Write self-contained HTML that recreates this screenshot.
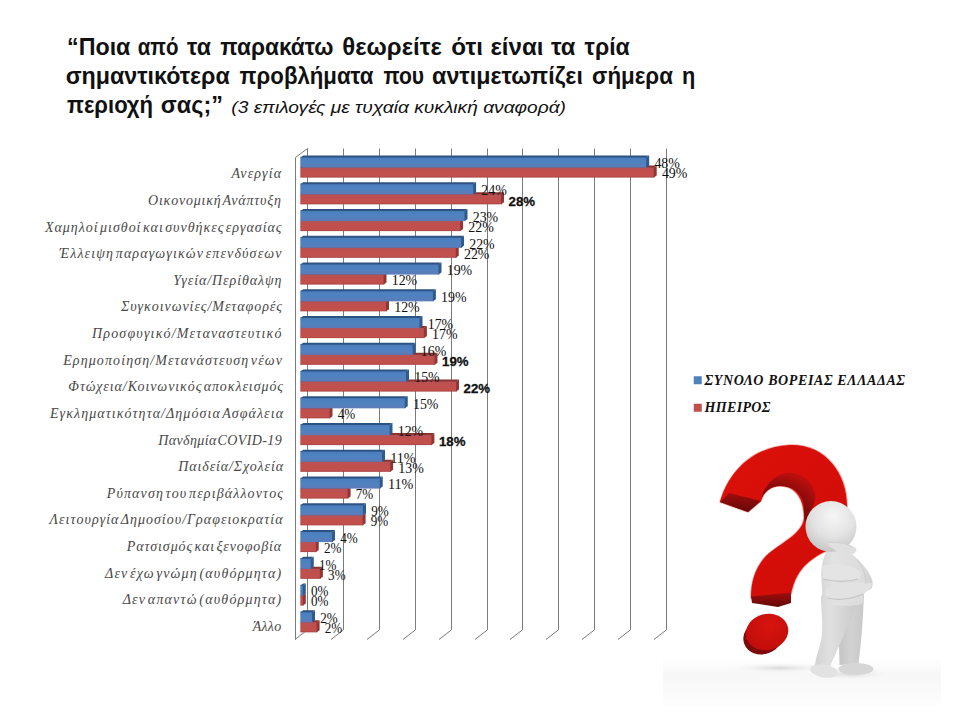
<!DOCTYPE html>
<html><head><meta charset="utf-8">
<style>
html,body{margin:0;padding:0;background:#fff;width:960px;height:720px;overflow:hidden}
svg{position:absolute;left:0;top:0}
.g{stroke:#7a7a7a;stroke-width:1}
.t{font-family:"Liberation Sans",sans-serif;font-weight:bold;font-size:23px;fill:#111}
.st{font-family:"Liberation Sans",sans-serif;font-style:italic;font-size:16.5px;fill:#111}
.c{font-family:"Liberation Serif",serif;font-style:italic;font-size:14px;fill:#484848;word-spacing:-3px}
.v{font-family:"Liberation Serif",serif;font-size:14.5px;fill:#111}
.vb{font-family:"Liberation Sans",sans-serif;font-weight:bold;font-size:13.5px;fill:#111;stroke:#111;stroke-width:0.3px}
.lg{font-family:"Liberation Serif",serif;font-style:italic;font-weight:bold;font-size:14px;fill:#111}
</style></head><body>
<svg width="960" height="720" viewBox="0 0 960 720">
<defs>
<linearGradient id="gb" x1="0" y1="0" x2="0" y2="1">
<stop offset="0" stop-color="#4a7dbb"/><stop offset="0.5" stop-color="#4f82c0"/><stop offset="1" stop-color="#5b7cb8"/>
</linearGradient>
<linearGradient id="gr" x1="0" y1="0" x2="0" y2="1">
<stop offset="0" stop-color="#b1555c"/><stop offset="0.3" stop-color="#bf4f4d"/><stop offset="0.85" stop-color="#c2504d"/><stop offset="1" stop-color="#a84442"/>
</linearGradient>
</defs>
<text x="67.10" y="54.75" class="t" textLength="63.30" lengthAdjust="spacingAndGlyphs">“Ποια</text>
<text x="137.75" y="54.75" class="t" textLength="40.75" lengthAdjust="spacingAndGlyphs">από</text>
<text x="187.10" y="54.75" class="t" textLength="23.90" lengthAdjust="spacingAndGlyphs">τα</text>
<text x="220.25" y="54.75" class="t" textLength="113.25" lengthAdjust="spacingAndGlyphs">παρακάτω</text>
<text x="342.30" y="54.75" class="t" textLength="99.50" lengthAdjust="spacingAndGlyphs">θεωρείτε</text>
<text x="451.30" y="54.75" class="t" textLength="31.70" lengthAdjust="spacingAndGlyphs">ότι</text>
<text x="490.40" y="54.75" class="t" textLength="53.10" lengthAdjust="spacingAndGlyphs">είναι</text>
<text x="550.90" y="54.75" class="t" textLength="24.50" lengthAdjust="spacingAndGlyphs">τα</text>
<text x="584.60" y="54.75" class="t" textLength="45.15" lengthAdjust="spacingAndGlyphs">τρία</text>
<text x="65.70" y="83.5" class="t" textLength="164.05" lengthAdjust="spacingAndGlyphs">σημαντικότερα</text>
<text x="239.60" y="83.5" class="t" textLength="133.90" lengthAdjust="spacingAndGlyphs">προβλήματα</text>
<text x="383.40" y="83.5" class="t" textLength="40.70" lengthAdjust="spacingAndGlyphs">που</text>
<text x="432.10" y="83.5" class="t" textLength="150.80" lengthAdjust="spacingAndGlyphs">αντιμετωπίζει</text>
<text x="592.10" y="83.5" class="t" textLength="80.80" lengthAdjust="spacingAndGlyphs">σήμερα</text>
<text x="682.10" y="83.5" class="t" textLength="13.30" lengthAdjust="spacingAndGlyphs">η</text>
<text x="67.00" y="113.1" class="t" textLength="86.00" lengthAdjust="spacingAndGlyphs">περιοχή</text>
<text x="160.80" y="113.1" class="t" textLength="62.20" lengthAdjust="spacingAndGlyphs">σας;”</text>
<text x="231.3" y="113" class="st" textLength="334.7" lengthAdjust="spacingAndGlyphs">(3 επιλογές με τυχαία κυκλική αναφορά)</text>
<polyline points="307.50,148.5 307.50,629.8 295.00,639.5" class="g" fill="none"/>
<polyline points="343.50,148.5 343.50,629.8 331.00,639.5" class="g" fill="none"/>
<polyline points="379.50,148.5 379.50,629.8 367.00,639.5" class="g" fill="none"/>
<polyline points="415.50,148.5 415.50,629.8 403.00,639.5" class="g" fill="none"/>
<polyline points="451.50,148.5 451.50,629.8 439.00,639.5" class="g" fill="none"/>
<polyline points="487.50,148.5 487.50,629.8 475.00,639.5" class="g" fill="none"/>
<polyline points="522.50,148.5 522.50,629.8 510.00,639.5" class="g" fill="none"/>
<polyline points="558.50,148.5 558.50,629.8 546.00,639.5" class="g" fill="none"/>
<polyline points="594.50,148.5 594.50,629.8 582.00,639.5" class="g" fill="none"/>
<polyline points="630.50,148.5 630.50,629.8 618.00,639.5" class="g" fill="none"/>
<polyline points="666.50,148.5 666.50,629.8 654.00,639.5" class="g" fill="none"/>
<polyline points="307.5,148.5 295.5,157.5 295.5,639.5" class="g" fill="none"/>
<rect x="300.30" y="166.80" width="354.20" height="10.8" fill="url(#gr)"/>
<polygon points="300.30,167.60 303.30,165.60 656.70,165.60 653.70,167.60" fill="#8a3331"/>
<polygon points="653.70,167.60 656.70,165.60 656.70,175.60 653.70,177.60" fill="#923634"/>
<rect x="300.30" y="156.80" width="346.70" height="10.8" fill="url(#gb)"/>
<polygon points="300.30,157.60 303.30,155.60 649.20,155.60 646.20,157.60" fill="#2c5282"/>
<polygon points="646.20,157.60 649.20,155.60 649.20,165.60 646.20,167.60" fill="#305a8c"/>
<rect x="300.30" y="193.55" width="201.50" height="10.8" fill="url(#gr)"/>
<polygon points="300.30,194.35 303.30,192.35 504.00,192.35 501.00,194.35" fill="#8a3331"/>
<polygon points="501.00,194.35 504.00,192.35 504.00,202.35 501.00,204.35" fill="#923634"/>
<rect x="300.30" y="183.55" width="173.60" height="10.8" fill="url(#gb)"/>
<polygon points="300.30,184.35 303.30,182.35 476.10,182.35 473.10,184.35" fill="#2c5282"/>
<polygon points="473.10,184.35 476.10,182.35 476.10,192.35 473.10,194.35" fill="#305a8c"/>
<rect x="300.30" y="220.30" width="160.60" height="10.8" fill="url(#gr)"/>
<polygon points="300.30,221.10 303.30,219.10 463.10,219.10 460.10,221.10" fill="#8a3331"/>
<polygon points="460.10,221.10 463.10,219.10 463.10,229.10 460.10,231.10" fill="#923634"/>
<rect x="300.30" y="210.30" width="165.00" height="10.8" fill="url(#gb)"/>
<polygon points="300.30,211.10 303.30,209.10 467.50,209.10 464.50,211.10" fill="#2c5282"/>
<polygon points="464.50,211.10 467.50,209.10 467.50,219.10 464.50,221.10" fill="#305a8c"/>
<rect x="300.30" y="247.05" width="156.25" height="10.8" fill="url(#gr)"/>
<polygon points="300.30,247.85 303.30,245.85 458.75,245.85 455.75,247.85" fill="#8a3331"/>
<polygon points="455.75,247.85 458.75,245.85 458.75,255.85 455.75,257.85" fill="#923634"/>
<rect x="300.30" y="237.05" width="161.50" height="10.8" fill="url(#gb)"/>
<polygon points="300.30,237.85 303.30,235.85 464.00,235.85 461.00,237.85" fill="#2c5282"/>
<polygon points="461.00,237.85 464.00,235.85 464.00,245.85 461.00,247.85" fill="#305a8c"/>
<rect x="300.30" y="273.80" width="84.00" height="10.8" fill="url(#gr)"/>
<polygon points="300.30,274.60 303.30,272.60 386.50,272.60 383.50,274.60" fill="#8a3331"/>
<polygon points="383.50,274.60 386.50,272.60 386.50,282.60 383.50,284.60" fill="#923634"/>
<rect x="300.30" y="263.80" width="139.00" height="10.8" fill="url(#gb)"/>
<polygon points="300.30,264.60 303.30,262.60 441.50,262.60 438.50,264.60" fill="#2c5282"/>
<polygon points="438.50,264.60 441.50,262.60 441.50,272.60 438.50,274.60" fill="#305a8c"/>
<rect x="300.30" y="300.55" width="86.50" height="10.8" fill="url(#gr)"/>
<polygon points="300.30,301.35 303.30,299.35 389.00,299.35 386.00,301.35" fill="#8a3331"/>
<polygon points="386.00,301.35 389.00,299.35 389.00,309.35 386.00,311.35" fill="#923634"/>
<rect x="300.30" y="290.55" width="133.40" height="10.8" fill="url(#gb)"/>
<polygon points="300.30,291.35 303.30,289.35 435.90,289.35 432.90,291.35" fill="#2c5282"/>
<polygon points="432.90,291.35 435.90,289.35 435.90,299.35 432.90,301.35" fill="#305a8c"/>
<rect x="300.30" y="327.30" width="124.40" height="10.8" fill="url(#gr)"/>
<polygon points="300.30,328.10 303.30,326.10 426.90,326.10 423.90,328.10" fill="#8a3331"/>
<polygon points="423.90,328.10 426.90,326.10 426.90,336.10 423.90,338.10" fill="#923634"/>
<rect x="300.30" y="317.30" width="120.00" height="10.8" fill="url(#gb)"/>
<polygon points="300.30,318.10 303.30,316.10 422.50,316.10 419.50,318.10" fill="#2c5282"/>
<polygon points="419.50,318.10 422.50,316.10 422.50,326.10 419.50,328.10" fill="#305a8c"/>
<rect x="300.30" y="354.05" width="135.00" height="10.8" fill="url(#gr)"/>
<polygon points="300.30,354.85 303.30,352.85 437.50,352.85 434.50,354.85" fill="#8a3331"/>
<polygon points="434.50,354.85 437.50,352.85 437.50,362.85 434.50,364.85" fill="#923634"/>
<rect x="300.30" y="344.05" width="113.10" height="10.8" fill="url(#gb)"/>
<polygon points="300.30,344.85 303.30,342.85 415.60,342.85 412.60,344.85" fill="#2c5282"/>
<polygon points="412.60,344.85 415.60,342.85 415.60,352.85 412.60,354.85" fill="#305a8c"/>
<rect x="300.30" y="380.80" width="156.50" height="10.8" fill="url(#gr)"/>
<polygon points="300.30,381.60 303.30,379.60 459.00,379.60 456.00,381.60" fill="#8a3331"/>
<polygon points="456.00,381.60 459.00,379.60 459.00,389.60 456.00,391.60" fill="#923634"/>
<rect x="300.30" y="370.80" width="106.50" height="10.8" fill="url(#gb)"/>
<polygon points="300.30,371.60 303.30,369.60 409.00,369.60 406.00,371.60" fill="#2c5282"/>
<polygon points="406.00,371.60 409.00,369.60 409.00,379.60 406.00,381.60" fill="#305a8c"/>
<rect x="300.30" y="407.55" width="30.00" height="10.8" fill="url(#gr)"/>
<polygon points="300.30,408.35 303.30,406.35 332.50,406.35 329.50,408.35" fill="#8a3331"/>
<polygon points="329.50,408.35 332.50,406.35 332.50,416.35 329.50,418.35" fill="#923634"/>
<rect x="300.30" y="397.55" width="105.25" height="10.8" fill="url(#gb)"/>
<polygon points="300.30,398.35 303.30,396.35 407.75,396.35 404.75,398.35" fill="#2c5282"/>
<polygon points="404.75,398.35 407.75,396.35 407.75,406.35 404.75,408.35" fill="#305a8c"/>
<rect x="300.30" y="434.30" width="131.90" height="10.8" fill="url(#gr)"/>
<polygon points="300.30,435.10 303.30,433.10 434.40,433.10 431.40,435.10" fill="#8a3331"/>
<polygon points="431.40,435.10 434.40,433.10 434.40,443.10 431.40,445.10" fill="#923634"/>
<rect x="300.30" y="424.30" width="90.00" height="10.8" fill="url(#gb)"/>
<polygon points="300.30,425.10 303.30,423.10 392.50,423.10 389.50,425.10" fill="#2c5282"/>
<polygon points="389.50,425.10 392.50,423.10 392.50,433.10 389.50,435.10" fill="#305a8c"/>
<rect x="300.30" y="461.05" width="90.60" height="10.8" fill="url(#gr)"/>
<polygon points="300.30,461.85 303.30,459.85 393.10,459.85 390.10,461.85" fill="#8a3331"/>
<polygon points="390.10,461.85 393.10,459.85 393.10,469.85 390.10,471.85" fill="#923634"/>
<rect x="300.30" y="451.05" width="82.50" height="10.8" fill="url(#gb)"/>
<polygon points="300.30,451.85 303.30,449.85 385.00,449.85 382.00,451.85" fill="#2c5282"/>
<polygon points="382.00,451.85 385.00,449.85 385.00,459.85 382.00,461.85" fill="#305a8c"/>
<rect x="300.30" y="487.80" width="48.10" height="10.8" fill="url(#gr)"/>
<polygon points="300.30,488.60 303.30,486.60 350.60,486.60 347.60,488.60" fill="#8a3331"/>
<polygon points="347.60,488.60 350.60,486.60 350.60,496.60 347.60,498.60" fill="#923634"/>
<rect x="300.30" y="477.80" width="80.25" height="10.8" fill="url(#gb)"/>
<polygon points="300.30,478.60 303.30,476.60 382.75,476.60 379.75,478.60" fill="#2c5282"/>
<polygon points="379.75,478.60 382.75,476.60 382.75,486.60 379.75,488.60" fill="#305a8c"/>
<rect x="300.30" y="514.55" width="63.10" height="10.8" fill="url(#gr)"/>
<polygon points="300.30,515.35 303.30,513.35 365.60,513.35 362.60,515.35" fill="#8a3331"/>
<polygon points="362.60,515.35 365.60,513.35 365.60,523.35 362.60,525.35" fill="#923634"/>
<rect x="300.30" y="504.55" width="63.50" height="10.8" fill="url(#gb)"/>
<polygon points="300.30,505.35 303.30,503.35 366.00,503.35 363.00,505.35" fill="#2c5282"/>
<polygon points="363.00,505.35 366.00,503.35 366.00,513.35 363.00,515.35" fill="#305a8c"/>
<rect x="300.30" y="541.30" width="16.25" height="10.8" fill="url(#gr)"/>
<polygon points="300.30,542.10 303.30,540.10 318.75,540.10 315.75,542.10" fill="#8a3331"/>
<polygon points="315.75,542.10 318.75,540.10 318.75,550.10 315.75,552.10" fill="#923634"/>
<rect x="300.30" y="531.30" width="32.50" height="10.8" fill="url(#gb)"/>
<polygon points="300.30,532.10 303.30,530.10 335.00,530.10 332.00,532.10" fill="#2c5282"/>
<polygon points="332.00,532.10 335.00,530.10 335.00,540.10 332.00,542.10" fill="#305a8c"/>
<rect x="300.30" y="568.05" width="20.40" height="10.8" fill="url(#gr)"/>
<polygon points="300.30,568.85 303.30,566.85 322.90,566.85 319.90,568.85" fill="#8a3331"/>
<polygon points="319.90,568.85 322.90,566.85 322.90,576.85 319.90,578.85" fill="#923634"/>
<rect x="300.30" y="558.05" width="11.25" height="10.8" fill="url(#gb)"/>
<polygon points="300.30,558.85 303.30,556.85 313.75,556.85 310.75,558.85" fill="#2c5282"/>
<polygon points="310.75,558.85 313.75,556.85 313.75,566.85 310.75,568.85" fill="#305a8c"/>
<rect x="300.30" y="594.80" width="3.30" height="10.8" fill="url(#gr)"/>
<polygon points="300.30,595.60 303.30,593.60 305.80,593.60 302.80,595.60" fill="#8a3331"/>
<polygon points="302.80,595.60 305.80,593.60 305.80,603.60 302.80,605.60" fill="#923634"/>
<rect x="300.30" y="584.80" width="3.30" height="10.8" fill="url(#gb)"/>
<polygon points="300.30,585.60 303.30,583.60 305.80,583.60 302.80,585.60" fill="#2c5282"/>
<polygon points="302.80,585.60 305.80,583.60 305.80,593.60 302.80,595.60" fill="#305a8c"/>
<rect x="300.30" y="621.55" width="17.10" height="10.8" fill="url(#gr)"/>
<polygon points="300.30,622.35 303.30,620.35 319.60,620.35 316.60,622.35" fill="#8a3331"/>
<polygon points="316.60,622.35 319.60,620.35 319.60,630.35 316.60,632.35" fill="#923634"/>
<rect x="300.30" y="611.55" width="12.50" height="10.8" fill="url(#gb)"/>
<polygon points="300.30,612.35 303.30,610.35 315.00,610.35 312.00,612.35" fill="#2c5282"/>
<polygon points="312.00,612.35 315.00,610.35 315.00,620.35 312.00,622.35" fill="#305a8c"/>
<text x="654.40" y="168.40" class="v" textLength="25.5" lengthAdjust="spacingAndGlyphs">48%</text>
<text x="661.90" y="178.30" class="v" textLength="25.5" lengthAdjust="spacingAndGlyphs">49%</text>
<text x="231.50" y="178.30" class="c" textLength="49.50" lengthAdjust="spacing">Ανεργία</text>
<text x="481.30" y="195.15" class="v" textLength="25.5" lengthAdjust="spacingAndGlyphs">24%</text>
<text x="508.60" y="205.65" class="vb" textLength="26.5" lengthAdjust="spacingAndGlyphs">28%</text>
<text x="148.00" y="204.92" class="c" textLength="133.00" lengthAdjust="spacing">Οικονομική Ανάπτυξη</text>
<text x="472.70" y="221.90" class="v" textLength="25.5" lengthAdjust="spacingAndGlyphs">23%</text>
<text x="468.30" y="231.80" class="v" textLength="25.5" lengthAdjust="spacingAndGlyphs">22%</text>
<text x="45.00" y="231.54" class="c" textLength="236.50" lengthAdjust="spacing">Χαμηλοί μισθοί και συνθήκες εργασίας</text>
<text x="469.20" y="248.65" class="v" textLength="25.5" lengthAdjust="spacingAndGlyphs">22%</text>
<text x="463.95" y="258.55" class="v" textLength="25.5" lengthAdjust="spacingAndGlyphs">22%</text>
<text x="59.60" y="258.16" class="c" textLength="221.90" lengthAdjust="spacing">Έλλειψη παραγωγικών επενδύσεων</text>
<text x="446.70" y="275.40" class="v" textLength="25.5" lengthAdjust="spacingAndGlyphs">19%</text>
<text x="391.70" y="285.30" class="v" textLength="25.5" lengthAdjust="spacingAndGlyphs">12%</text>
<text x="173.30" y="284.78" class="c" textLength="108.20" lengthAdjust="spacing">Υγεία/Περίθαλψη</text>
<text x="441.10" y="302.15" class="v" textLength="25.5" lengthAdjust="spacingAndGlyphs">19%</text>
<text x="394.20" y="312.05" class="v" textLength="25.5" lengthAdjust="spacingAndGlyphs">12%</text>
<text x="121.00" y="311.40" class="c" textLength="161.00" lengthAdjust="spacing">Συγκοινωνίες/Μεταφορές</text>
<text x="427.70" y="328.90" class="v" textLength="25.5" lengthAdjust="spacingAndGlyphs">17%</text>
<text x="432.10" y="338.80" class="v" textLength="25.5" lengthAdjust="spacingAndGlyphs">17%</text>
<text x="92.00" y="338.02" class="c" textLength="189.50" lengthAdjust="spacing">Προσφυγικό/Μεταναστευτικό</text>
<text x="420.80" y="355.65" class="v" textLength="25.5" lengthAdjust="spacingAndGlyphs">16%</text>
<text x="442.10" y="366.15" class="vb" textLength="26.5" lengthAdjust="spacingAndGlyphs">19%</text>
<text x="63.20" y="364.64" class="c" textLength="218.80" lengthAdjust="spacing">Ερημοποίηση/Μετανάστευση νέων</text>
<text x="414.20" y="382.40" class="v" textLength="25.5" lengthAdjust="spacingAndGlyphs">15%</text>
<text x="463.60" y="392.90" class="vb" textLength="26.5" lengthAdjust="spacingAndGlyphs">22%</text>
<text x="68.30" y="391.26" class="c" textLength="214.70" lengthAdjust="spacing">Φτώχεια/Κοινωνικός αποκλεισμός</text>
<text x="412.95" y="409.15" class="v" textLength="25.5" lengthAdjust="spacingAndGlyphs">15%</text>
<text x="337.70" y="419.05" class="v" textLength="17.5" lengthAdjust="spacingAndGlyphs">4%</text>
<text x="50.00" y="417.88" class="c" textLength="233.00" lengthAdjust="spacing">Εγκληματικότητα/Δημόσια Ασφάλεια</text>
<text x="397.70" y="435.90" class="v" textLength="25.5" lengthAdjust="spacingAndGlyphs">12%</text>
<text x="439.00" y="446.40" class="vb" textLength="26.5" lengthAdjust="spacingAndGlyphs">18%</text>
<text x="158.30" y="444.50" class="c" textLength="123.40" lengthAdjust="spacing">Πανδημία COVID-19</text>
<text x="390.20" y="462.65" class="v" textLength="25.5" lengthAdjust="spacingAndGlyphs">11%</text>
<text x="398.30" y="472.55" class="v" textLength="25.5" lengthAdjust="spacingAndGlyphs">13%</text>
<text x="178.30" y="471.12" class="c" textLength="104.70" lengthAdjust="spacing">Παιδεία/Σχολεία</text>
<text x="387.95" y="489.40" class="v" textLength="25.5" lengthAdjust="spacingAndGlyphs">11%</text>
<text x="355.80" y="499.30" class="v" textLength="17.5" lengthAdjust="spacingAndGlyphs">7%</text>
<text x="106.70" y="497.74" class="c" textLength="176.30" lengthAdjust="spacing">Ρύπανση του περιβάλλοντος</text>
<text x="371.20" y="516.15" class="v" textLength="17.5" lengthAdjust="spacingAndGlyphs">9%</text>
<text x="370.80" y="526.05" class="v" textLength="17.5" lengthAdjust="spacingAndGlyphs">9%</text>
<text x="49.50" y="524.36" class="c" textLength="233.00" lengthAdjust="spacing">Λειτουργία Δημοσίου/Γραφειοκρατία</text>
<text x="340.20" y="542.90" class="v" textLength="17.5" lengthAdjust="spacingAndGlyphs">4%</text>
<text x="323.95" y="552.80" class="v" textLength="17.5" lengthAdjust="spacingAndGlyphs">2%</text>
<text x="126.70" y="550.98" class="c" textLength="154.50" lengthAdjust="spacing">Ρατσισμός και ξενοφοβία</text>
<text x="318.95" y="569.65" class="v" textLength="17.5" lengthAdjust="spacingAndGlyphs">1%</text>
<text x="328.10" y="579.55" class="v" textLength="17.5" lengthAdjust="spacingAndGlyphs">3%</text>
<text x="105.00" y="577.60" class="c" textLength="176.20" lengthAdjust="spacing">Δεν έχω γνώμη (αυθόρμητα)</text>
<text x="311.00" y="596.40" class="v" textLength="17.5" lengthAdjust="spacingAndGlyphs">0%</text>
<text x="311.00" y="606.30" class="v" textLength="17.5" lengthAdjust="spacingAndGlyphs">0%</text>
<text x="122.70" y="604.22" class="c" textLength="158.50" lengthAdjust="spacing">Δεν απαντώ (αυθόρμητα)</text>
<text x="320.20" y="623.15" class="v" textLength="17.5" lengthAdjust="spacingAndGlyphs">2%</text>
<text x="324.80" y="633.05" class="v" textLength="17.5" lengthAdjust="spacingAndGlyphs">2%</text>
<text x="252.70" y="630.84" class="c" textLength="28.50" lengthAdjust="spacing">Άλλο</text>
<rect x="693.75" y="376.25" width="8" height="8" fill="#4f81bd"/>
<text x="704.5" y="385" class="lg" textLength="200.5" lengthAdjust="spacing">ΣΥΝΟΛΟ ΒΟΡΕΙΑΣ ΕΛΛΑΔΑΣ</text>
<rect x="693.75" y="403.75" width="8" height="8" fill="#c0504d"/>
<text x="704.5" y="412" class="lg" textLength="66" lengthAdjust="spacing">ΗΠΕΙΡΟΣ</text>
<defs>
<radialGradient id="hg" cx="0.55" cy="0.3" r="0.75">
<stop offset="0" stop-color="#f6f6f6"/><stop offset="0.55" stop-color="#e2e2e2"/><stop offset="1" stop-color="#c2c2c2"/>
</radialGradient>
<linearGradient id="bodyg" gradientUnits="userSpaceOnUse" x1="815" y1="0" x2="875" y2="0">
<stop offset="0" stop-color="#d2d2d2"/><stop offset="0.3" stop-color="#e2e2e2"/><stop offset="0.8" stop-color="#dcdcdc"/><stop offset="1" stop-color="#cccccc"/>
</linearGradient>
<linearGradient id="legg" gradientUnits="userSpaceOnUse" x1="812" y1="0" x2="852" y2="0">
<stop offset="0" stop-color="#d0d0d0"/><stop offset="0.45" stop-color="#e0e0e0"/><stop offset="1" stop-color="#cdcdcd"/>
</linearGradient>
<linearGradient id="leg2g" gradientUnits="userSpaceOnUse" x1="838" y1="0" x2="864" y2="0">
<stop offset="0" stop-color="#c4c4c4"/><stop offset="0.5" stop-color="#d2d2d2"/><stop offset="1" stop-color="#c8c8c8"/>
</linearGradient>
<radialGradient id="shg" cx="0.5" cy="0.5" r="0.5">
<stop offset="0" stop-color="#d0d0d0" stop-opacity="0.8"/><stop offset="1" stop-color="#ffffff" stop-opacity="0"/>
</radialGradient>
<linearGradient id="bgg" x1="0" y1="0" x2="0" y2="1">
<stop offset="0" stop-color="#ffffff" stop-opacity="0"/><stop offset="0.4" stop-color="#f0f0f0"/><stop offset="0.75" stop-color="#f6f6f6"/><stop offset="1" stop-color="#fcfcfc"/>
</linearGradient>
<linearGradient id="qg" x1="0" y1="0" x2="1" y2="1">
<stop offset="0" stop-color="#dc100a"/><stop offset="1" stop-color="#cf0c08"/>
</linearGradient>
<linearGradient id="darkg" x1="0" y1="0" x2="0" y2="1">
<stop offset="0" stop-color="#a00d0d"/><stop offset="1" stop-color="#640808"/>
</linearGradient>
<radialGradient id="inng" cx="0.25" cy="0.95" r="0.95">
<stop offset="0" stop-color="#3c0505"/><stop offset="0.55" stop-color="#6e0909"/><stop offset="1" stop-color="#b80e0e"/>
</radialGradient>
<radialGradient id="dotg" cx="0.6" cy="0.35" r="0.7">
<stop offset="0" stop-color="#d81410"/><stop offset="1" stop-color="#c00d0a"/>
</radialGradient>
</defs>
<!-- faint photo floor -->
<rect x="663" y="652" width="278" height="54" fill="url(#bgg)" opacity="0.55"/>
<ellipse cx="780" cy="668" rx="60" ry="6" fill="url(#shg)"/>
<ellipse cx="850" cy="674" rx="45" ry="7" fill="url(#shg)"/>
<!-- question mark -->
<path d="M720,502 C727,477 748,447 790,445 C826,444 847,474 847,506 L847,520 C845,540 835,548 822,553 C808,561 796,570 791,594 L751,598 C751,582 755,568 766,556 C780,543 803,534 804,518 C804,498 795,486 780,486 C770,486 763,493 761,501 L748,512 Z" fill="url(#qg)" stroke="#f3a8a0" stroke-width="1.6" paint-order="stroke" stroke-linejoin="round"/>
<path d="M761,501 C764,485 775,473 790,473 C803,473 815,484 815.5,497 C815,506 808,514 805,523 C804.5,516 804,510 804,505 C802,494 794,486 780,486 C770,486 763,493 761,501 Z" fill="url(#inng)"/>
<polygon points="720,502 729,493 761,501 748,512" fill="url(#darkg)"/>
<polygon points="751,596.5 791,592.5 791,603 778,607 752,603" fill="url(#darkg)"/>
<!-- dot -->
<ellipse cx="763" cy="637" rx="20" ry="17" fill="#7e0909" transform="rotate(-20 763 637)"/>
<ellipse cx="767" cy="632" rx="21.5" ry="18" fill="url(#dotg)" transform="rotate(-15 767 632)"/>
<!-- man: back leg -->
<path d="M838,596 L864,594 C863,620 861,645 858.5,664 L839.5,665 C839.5,650 838,625 838,596 Z" fill="url(#leg2g)"/>
<ellipse cx="856" cy="669" rx="17.5" ry="6" fill="#d6d6d6"/>
<!-- front leg -->
<path d="M821,596 L857,596 C856,608 852,618 846,630 C840,645 834,656 830,667 L815,665 C816,655 821,645 822,635 C823,622 821,610 821,596 Z" fill="url(#legg)"/>
<ellipse cx="824" cy="671" rx="14" ry="6.5" fill="#e2e2e2" transform="rotate(10 824 671)"/>
<!-- torso -->
<path d="M826,552 C838,549 852,552 857,559 C864,565 870,573 872.5,581 C873,586 872,589 869,590 C865,592 863,594 863,598 C864,600 863,602 862,604 C850,607 832,606 822,602 C821,606 821,600 822,594 C823,588 821,584 821.5,578 C821,570 821.5,562 826,552 Z" fill="url(#bodyg)"/>
<path d="M822,566 C832,562 848,564 858,570 C862,574 862,578 857,580 C845,582 832,581 823,579 Z" fill="#e4e4e4"/>
<path d="M823,579 C835,582 848,582 858,579" stroke="#c6c6c6" stroke-width="1.2" fill="none"/>
<path d="M826,589 C838,583 858,581 872,583 C872,589 866,592 858,595 C848,599 838,600 829,598 C825,596 824,592 826,589 Z" fill="#e2e2e2"/>
<path d="M828,598 C838,601 852,599 863,594" stroke="#c4c4c4" stroke-width="1.2" fill="none"/>
<path d="M857,559 C862,566 866,574 866,584" stroke="#cdcdcd" stroke-width="1" fill="none"/>
<!-- head -->
<circle cx="831" cy="526.5" r="25.5" fill="url(#hg)"/>
<!-- hand on chin -->
<path d="M827,543 C835,540 848,543 856,548 C858,552 852,556 846,556 C838,552 830,548 827,543 Z" fill="#e0e0e0"/>
<path d="M827,543 C835,541 846,543 852,547" stroke="#cfcfcf" stroke-width="1" fill="none"/>

</svg>
</body></html>
